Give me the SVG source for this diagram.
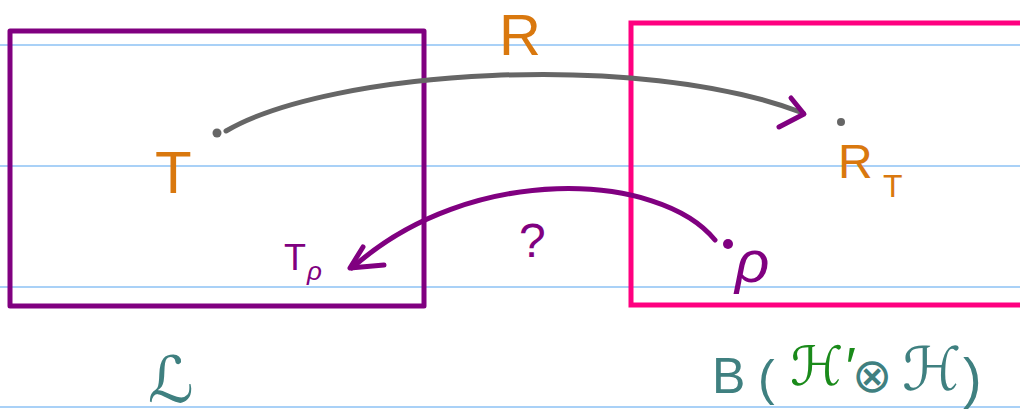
<svg xmlns="http://www.w3.org/2000/svg" width="1020" height="417" viewBox="0 0 1020 417">
<style>
.rule{stroke:#a9d1f7;stroke-width:2}
.lbl{font-family:"Liberation Sans","DejaVu Sans",sans-serif}
.or{fill:#d9780e}
.pu{fill:#800080}
.te{fill:#3f8080}
.gr{fill:#1a8a1a}
.ah{fill:none;stroke:#800080;stroke-width:5;stroke-linecap:round;stroke-linejoin:round}
</style>
<rect width="1020" height="417" fill="#ffffff"/>
<g id="rules">
<line class="rule" x1="0" y1="45" x2="1020" y2="45"/>
<line class="rule" x1="0" y1="166" x2="1020" y2="166"/>
<line class="rule" x1="0" y1="287" x2="1020" y2="287"/>
<line class="rule" x1="0" y1="407" x2="1020" y2="407"/>
</g>
<g id="boxL">
<rect x="10" y="31" width="414" height="275" fill="none" stroke="#800080" stroke-width="5" stroke-linejoin="round"/>
<text class="lbl te" x="148" y="402" font-size="64">ℒ</text>
</g>
<g id="boxR">
<rect x="631" y="23" width="400" height="282" fill="none" stroke="#ff0080" stroke-width="5"/>
<text class="lbl te" x="712" y="393" font-size="50">B</text>
<text class="lbl te" x="758" y="395" font-size="50">(</text>
<text class="lbl gr" x="790" y="385" font-size="54" font-style="italic">ℋ′</text>
<text class="lbl te" x="852" y="392" font-size="48">⊗</text>
<text class="lbl te" x="902" y="390" font-size="60">ℋ</text>
<text class="lbl te" x="963" y="397" font-size="56">)</text>
</g>
<g id="nodeT">
<circle cx="217" cy="133" r="4.5" fill="#666666"/>
<text class="lbl or" x="155" y="193" font-size="60">T</text>
</g>
<g id="nodeRT">
<circle cx="841" cy="122" r="4" fill="#666666"/>
<text class="lbl or" x="838" y="178" font-size="48">R</text>
<text class="lbl or" x="883" y="197" font-size="32">T</text>
</g>
<g id="nodeRho">
<circle cx="728" cy="244" r="5" fill="#800080"/>
<text class="lbl pu" x="735" y="282" font-size="60" font-style="italic">ρ</text>
</g>
<g id="nodeTrho">
<text class="lbl pu" x="284" y="270" font-size="36">T</text>
<text class="lbl pu" x="307" y="280" font-size="26" font-style="italic">ρ</text>
</g>
<g id="connectors">
<path d="M226,131 C330,70 640,50 803,113" fill="none" stroke="#666666" stroke-width="5" stroke-linecap="round"/>
<polyline class="ah" points="791,98 804,114 779,127"/>
<text class="lbl or" x="499" y="55" font-size="58">R</text>
<path d="M715,240 C660,172 470,162 352,268" fill="none" stroke="#800080" stroke-width="5" stroke-linecap="round"/>
<polyline class="ah" points="363,247 350,268 384,265"/>
<text class="lbl pu" x="519" y="257" font-size="48">?</text>
</g>
</svg>
